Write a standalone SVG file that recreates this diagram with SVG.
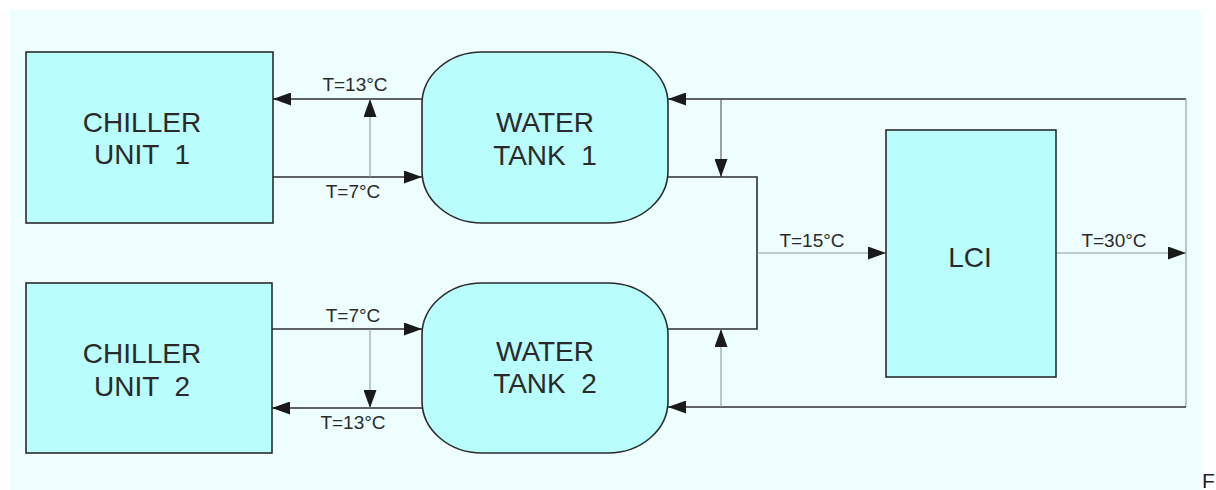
<svg xmlns="http://www.w3.org/2000/svg" width="1216" height="490" viewBox="0 0 1216 490">
<defs>
<style>
.node{fill:#bafdfd;stroke:#2b2b2b;stroke-width:1.6}
.lbl{font-family:"Liberation Sans",Arial,sans-serif;font-size:28px;fill:#2a2a2a;text-anchor:middle}
.t{font-family:"Liberation Sans",Arial,sans-serif;font-size:19px;fill:#2a2a2a;text-anchor:middle}
.main{fill:none;stroke:#2e2e2e;stroke-width:1.6}
.thin{fill:none;stroke:#8f9a9a;stroke-width:1.1}
.thind{fill:none;stroke:#555;stroke-width:1.1}
</style>
<marker id="ah" viewBox="0 0 18 13" refX="18" refY="6.5" markerWidth="18" markerHeight="13" markerUnits="userSpaceOnUse" orient="auto">
<path d="M0,0 L18,6.5 L0,13 Z" fill="#1a1a1a"/>
</marker>
</defs>
<rect x="0" y="0" width="1216" height="490" fill="#ffffff"/>
<rect x="10" y="10" width="1192" height="480" fill="#eefefe"/>

<g id="connectors">
<path class="main" d="M424,99 H273" marker-end="url(#ah)"/>
<path class="main" d="M273,177 H422" marker-end="url(#ah)"/>
<path class="thin" d="M370,177 V99" marker-end="url(#ah)"/>
<path class="main" d="M272,329 H422" marker-end="url(#ah)"/>
<path class="main" d="M424,408 H272" marker-end="url(#ah)"/>
<path class="thin" d="M370,329 V408" marker-end="url(#ah)"/>
<path class="main" d="M1186,99 H668" marker-end="url(#ah)"/>
<path class="thind" d="M721,99 V177" marker-end="url(#ah)"/>
<path class="main" d="M668,177 H757 V329 H668"/>
<path class="thin" d="M757,253 H886" marker-end="url(#ah)"/>
<path class="thin" d="M1056,253 H1186" marker-end="url(#ah)"/>
<path class="thin" d="M1186,99 V407"/>
<path class="main" d="M1186,407 H668" marker-end="url(#ah)"/>
<path class="thin" d="M721,407 V329" marker-end="url(#ah)"/>
<text class="t" x="355" y="91">T=13°C</text>
<text class="t" x="353" y="198">T=7°C</text>
<text class="t" x="353" y="322">T=7°C</text>
<text class="t" x="353" y="429">T=13°C</text>
<text class="t" x="812" y="247">T=15°C</text>
<text class="t" x="1114" y="247">T=30°C</text>
</g>

<g id="chiller1">
<rect class="node" x="26" y="52" width="247" height="171"/>
<text class="lbl" x="142" y="132">CHILLER</text>
<text class="lbl" x="142" y="164" xml:space="preserve">UNIT  1</text>
</g>
<g id="chiller2">
<rect class="node" x="26" y="283" width="246" height="170"/>
<text class="lbl" x="142" y="363">CHILLER</text>
<text class="lbl" x="142" y="396" xml:space="preserve">UNIT  2</text>
</g>
<g id="tank1">
<rect class="node" x="422" y="52" width="246" height="171" rx="60" ry="52"/>
<text class="lbl" x="545" y="132">WATER</text>
<text class="lbl" x="545" y="165" xml:space="preserve">TANK  1</text>
</g>
<g id="tank2">
<rect class="node" x="422" y="283" width="246" height="170" rx="60" ry="52"/>
<text class="lbl" x="545" y="361">WATER</text>
<text class="lbl" x="545" y="393" xml:space="preserve">TANK  2</text>
</g>
<g id="lci">
<rect class="node" x="886" y="130" width="170" height="247"/>
<text class="lbl" x="970" y="267">LCI</text>
</g>
<text x="1202" y="488" style="font-family:'Liberation Sans',Arial,sans-serif;font-size:21px;fill:#222">F</text>
</svg>
